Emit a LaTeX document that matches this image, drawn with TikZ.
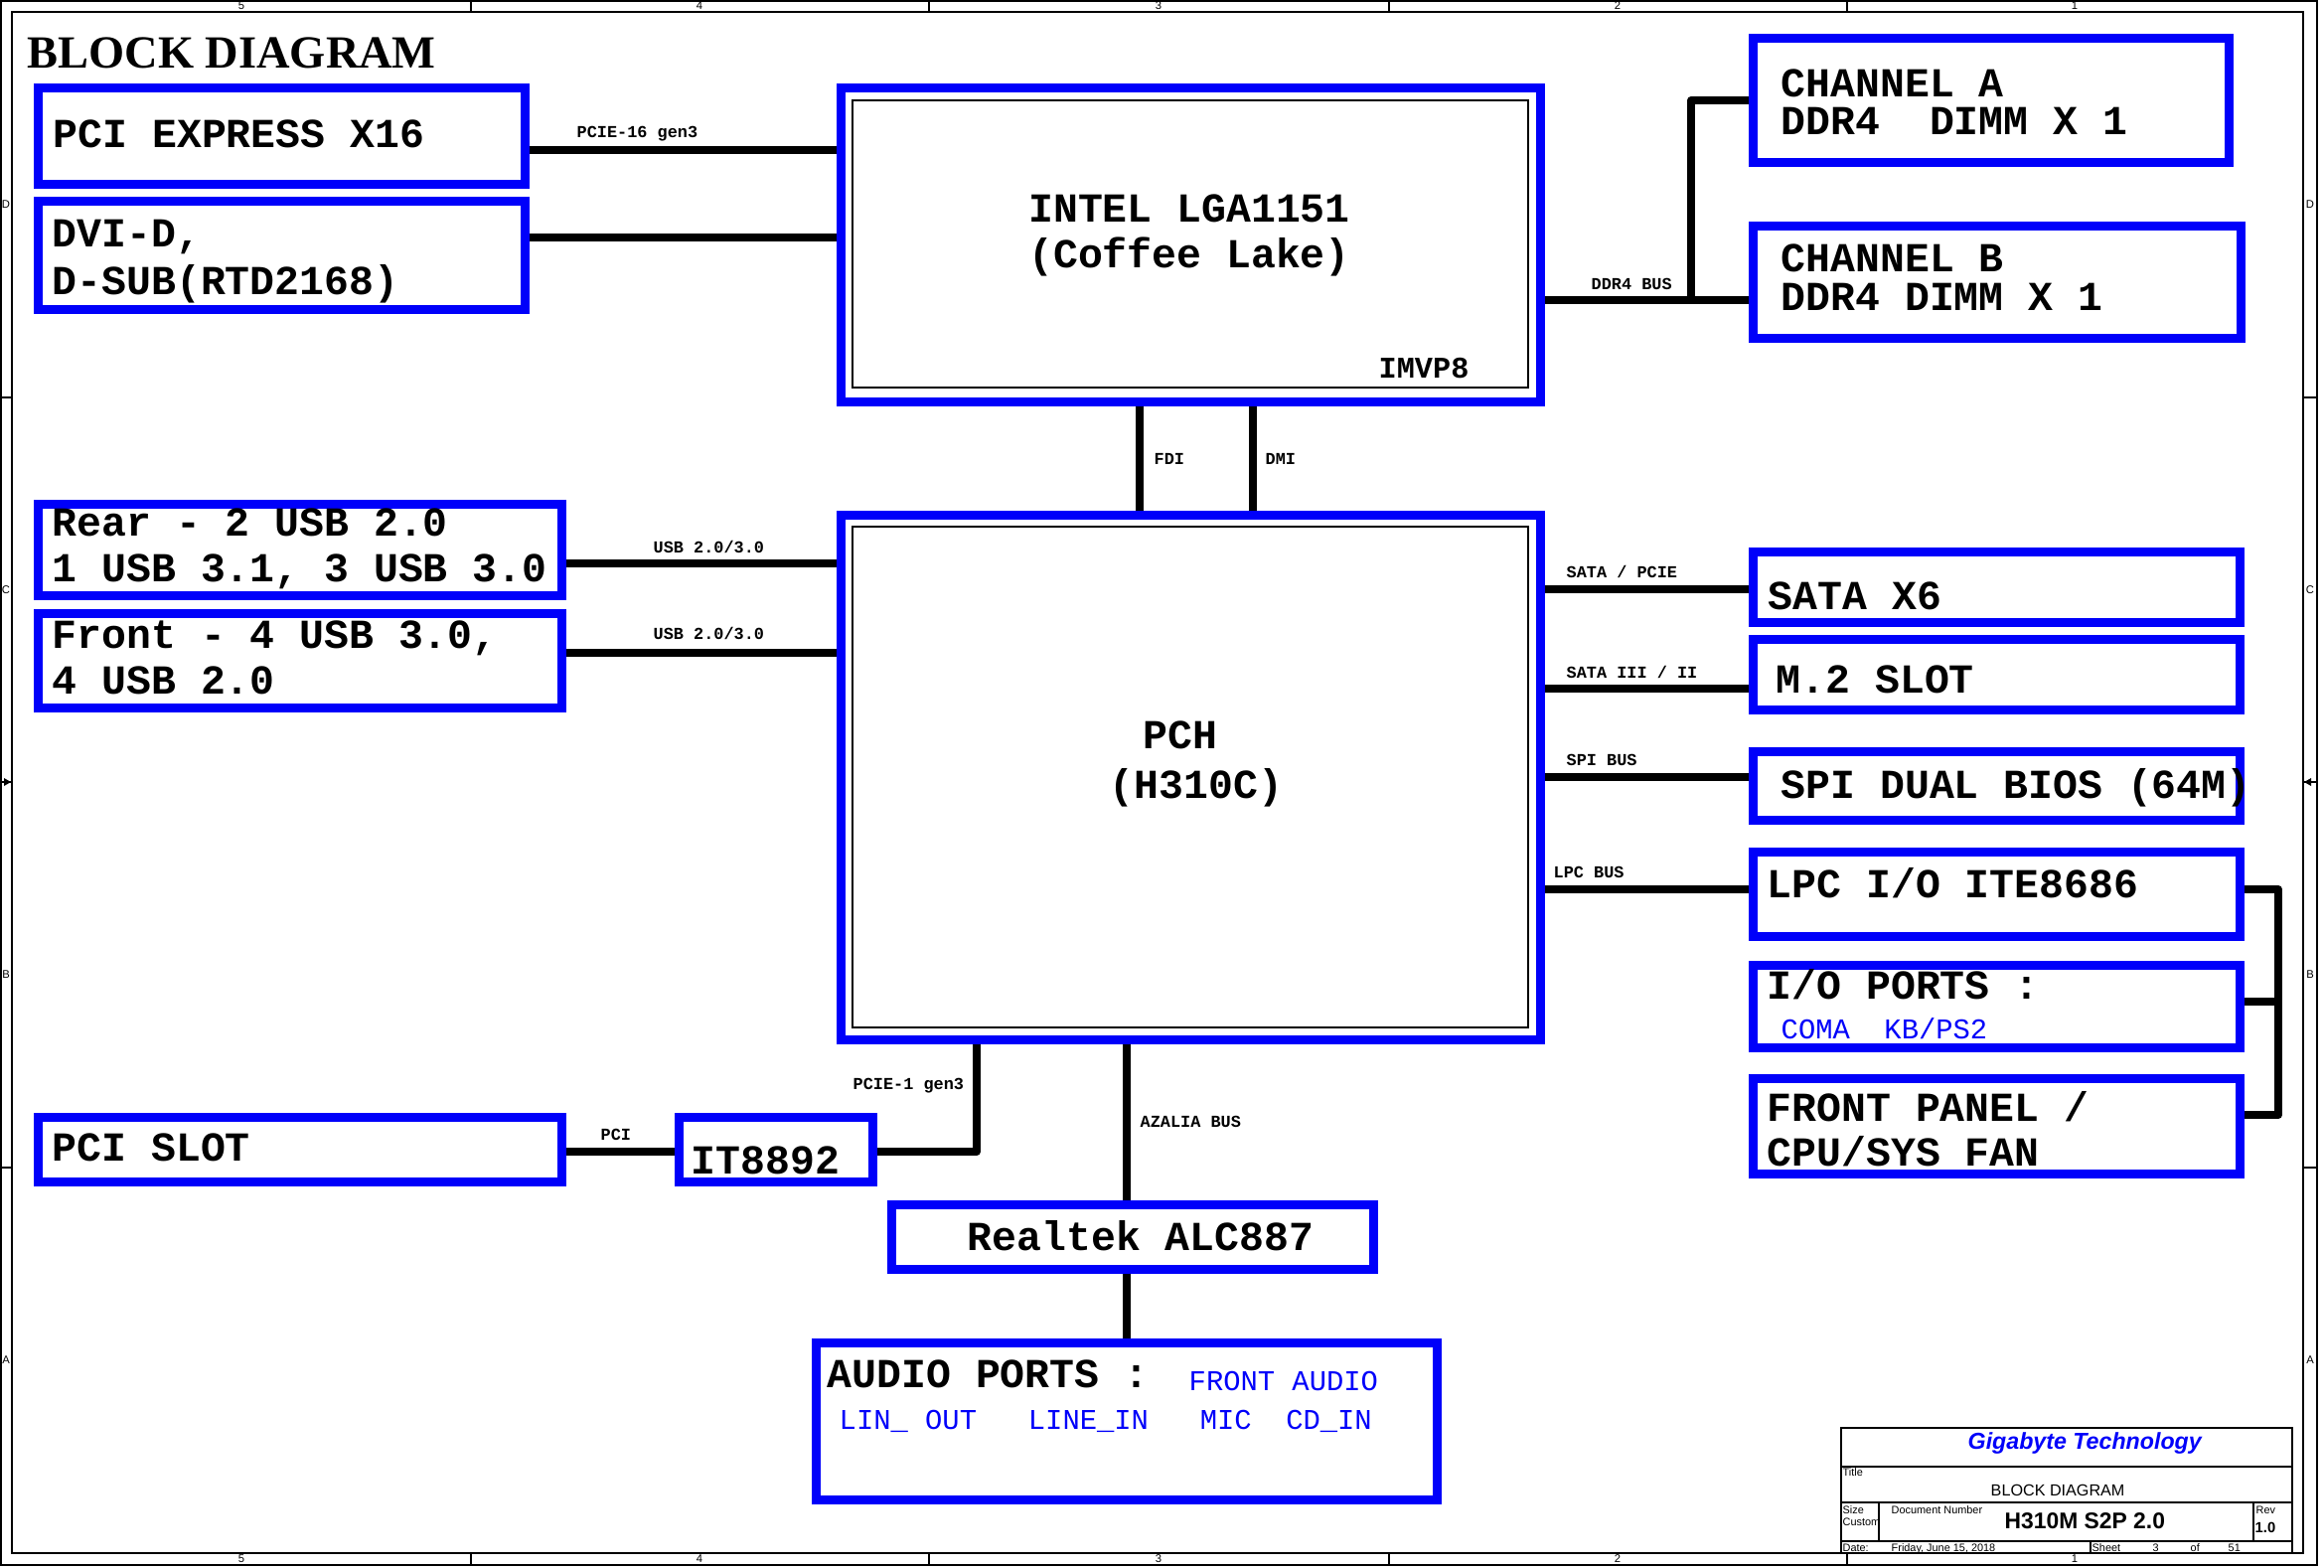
\documentclass[tikz,border=0pt]{standalone}
\usepackage{fontspec}
\setmainfont{Liberation Sans}
\newfontfamily\cour{Liberation Mono}
\newfontfamily\tms{Liberation Serif}
\usetikzlibrary{fit}
\definecolor{bblue}{RGB}{0,0,250}
\begin{document}
\begin{tikzpicture}[x=0.1mm,y=-0.1mm,
  blk/.style={draw=bblue, line width=0.9mm, inner sep=0pt, rectangle},
  thinbox/.style={draw=black, line width=0.15mm, inner sep=0pt, rectangle},
  wire/.style={line width=0.8mm, line join=round},
  frm/.style={line width=0.2mm},
  tb/.style={line width=0.12mm},
  big/.style={font=\cour\bfseries\fontsize{11.8}{11.8}\selectfont, anchor=base west, inner sep=0pt},
  bigc/.style={font=\cour\bfseries\fontsize{11.8}{11.8}\selectfont, anchor=base, inner sep=0pt},
  lbl/.style={font=\cour\bfseries\fontsize{4.8}{4.8}\selectfont, anchor=base west, inner sep=0pt},
  bluetxt/.style={font=\cour\fontsize{8.2}{8.2}\selectfont, text=bblue, anchor=base west, inner sep=0pt},
  strip/.style={font=\fontsize{3.2}{3.2}\selectfont, inner sep=0pt},
  tbt/.style={font=\fontsize{3.1}{3.1}\selectfont, anchor=base west, inner sep=0pt}
]
\useasboundingbox (0,0) rectangle (2339,1577);
\fill[white] (0,0) rectangle (2339,1577);

% ---------- sheet frame ----------
\draw[frm] (1,1) rectangle (2332,1575);
\draw[frm] (12,12) rectangle (2318,1563);
\foreach \xx in {474,935,1398,1859} {
  \draw[tb] (\xx,1) -- (\xx,12);
  \draw[tb] (\xx,1563) -- (\xx,1575);
}
\foreach \yy in {400,787,1175} {
  \draw[tb] (1,\yy) -- (12,\yy);
  \draw[tb] (2318,\yy) -- (2332,\yy);
}
\fill (11,787) -- (4,783) -- (4,791) -- cycle;
\fill (2319,787) -- (2326,783) -- (2326,791) -- cycle;
\node[strip] (c5t) at (243,6) {5};
\node[strip] (c4t) at (704,6) {4};
\node[strip] (c3t) at (1166,6) {3};
\node[strip] (c2t) at (1628,6) {2};
\node[strip] (c1t) at (2088,6) {1};
\node[strip] (c5b) at (243,1569) {5};
\node[strip] (c4b) at (704,1569) {4};
\node[strip] (c3b) at (1166,1569) {3};
\node[strip] (c2b) at (1628,1569) {2};
\node[strip] (c1b) at (2088,1569) {1};
\node[strip] (rDl) at (6,206) {D};
\node[strip] (rCl) at (6,594) {C};
\node[strip] (rBl) at (6,981) {B};
\node[strip] (rAl) at (6,1369) {A};
\node[strip] (rDr) at (2325,206) {D};
\node[strip] (rCr) at (2325,594) {C};
\node[strip] (rBr) at (2325,981) {B};
\node[strip] (rAr) at (2325,1369) {A};

% ---------- title ----------
\node[font=\tms\bfseries\fontsize{13.2}{13.2}\selectfont, anchor=base west, inner sep=0pt] (title) at (27,68) {BLOCK DIAGRAM};

% ---------- boxes ----------
\node[blk, fit={(38,88)(528,185)}] (pcie) {};
\node[blk, fit={(38,202)(528,311)}] (dvi) {};
\node[blk, fit={(846,88)(1550,404)}] (cpu) {};
\node[thinbox, fit={(858,101)(1538,390)}] (cpuin) {};
\node[blk, fit={(846,518)(1550,1046)}] (pch) {};
\node[thinbox, fit={(858,530)(1538,1034)}] (pchin) {};
\node[blk, fit={(38,507)(565,599)}] (rear) {};
\node[blk, fit={(38,617)(565,712)}] (front) {};
\node[blk, fit={(38,1124)(565,1189)}] (pcislot) {};
\node[blk, fit={(683,1124)(878,1189)}] (ite) {};
\node[blk, fit={(897,1212)(1382,1277)}] (realtek) {};
\node[blk, fit={(821,1351)(1446,1509)}] (audio) {};
\node[blk, fit={(1764,38)(2243,163)}] (chA) {};
\node[blk, fit={(1764,227)(2255,340)}] (chB) {};
\node[blk, fit={(1764,555)(2254,626)}] (sata) {};
\node[blk, fit={(1764,643)(2254,714)}] (m2) {};
\node[blk, fit={(1764,756)(2254,825)}] (spi) {};
\node[blk, fit={(1764,857)(2254,942)}] (lpc) {};
\node[blk, fit={(1764,971)(2254,1054)}] (io) {};
\node[blk, fit={(1764,1085)(2254,1181)}] (fp) {};

% ---------- box texts ----------
\node[big] (tpcie) at (53,148) {PCI EXPRESS X16};
\node[big] (tdvi1) at (52,248) {DVI-D,};
\node[big] (tdvi2) at (52,296) {D-SUB(RTD2168)};
\node[bigc] (tcpu1) at (1197,223) {INTEL LGA1151};
\node[bigc] (tcpu2) at (1197,269) {(Coffee Lake)};
\node[font=\cour\bfseries\fontsize{8.6}{8.6}\selectfont, anchor=base west, inner sep=0pt] (timvp) at (1387,380) {IMVP8};
\node[big] (tchA1) at (1792,97) {CHANNEL A};
\node[big] (tchA2) at (1792,135) {DDR4~~DIMM X 1};
\node[big] (tchB1) at (1792,273) {CHANNEL B};
\node[big] (tchB2) at (1792,312) {DDR4 DIMM X 1};
\node[big] (trear1) at (52,539) {Rear - 2 USB 2.0};
\node[big] (trear2) at (52,585) {1 USB 3.1, 3 USB 3.0};
\node[big] (tfront1) at (52,652) {Front - 4 USB 3.0,};
\node[big] (tfront2) at (52,698) {4 USB 2.0};
\node[big] (tpch1) at (1150,753) {PCH};
\node[big] (tpch2) at (1116,803) {(H310C)};
\node[big] (tsata) at (1779,613) {SATA X6};
\node[big] (tm2) at (1787,697) {M.2 SLOT};
\node[big] (tspi) at (1792,803) {SPI DUAL BIOS (64M)};
\node[big] (tlpc) at (1778,903) {LPC I/O ITE8686};
\node[big] (tio) at (1778,1005) {I/O PORTS :};
\node[bluetxt] (tio2) at (1792,1045) {COMA~~KB/PS2};
\node[big] (tfp1) at (1778,1128) {FRONT PANEL /};
\node[big] (tfp2) at (1778,1173) {CPU/SYS FAN};
\node[big] (tpcislot) at (52,1168) {PCI SLOT};
\node[big] (tite) at (695,1181) {IT8892};
\node[big] (trealtek) at (973,1258) {Realtek ALC887};
\node[big] (taudio1) at (832,1396) {AUDIO PORTS :};
\node[bluetxt] (taudio2) at (1196,1399) {FRONT AUDIO};
\node[bluetxt] (taudio3) at (844,1438) {LIN\_ OUT~~~LINE\_IN~~~MIC~~CD\_IN};

% ---------- connector coordinates ----------
\coordinate (yPCIE) at (0,151);
\coordinate (yDVI) at (0,239);
\coordinate (yDDR) at (0,302);
\coordinate (jDDR) at (1702,302);
\coordinate (yCHA) at (0,101);
\coordinate (xFDI) at (1147,0);
\coordinate (xDMI) at (1261,0);
\coordinate (yUSB1) at (0,567);
\coordinate (yUSB2) at (0,657);
\coordinate (ySATA) at (0,593);
\coordinate (yM2) at (0,693);
\coordinate (ySPI) at (0,782);
\coordinate (yLPC) at (0,895);
\coordinate (yIO) at (0,1008);
\coordinate (busB) at (2293,1122);
\coordinate (yPCI) at (0,1159);
\coordinate (xPCIE1) at (983,0);
\coordinate (xAZ) at (1134,0);

% ---------- connectors ----------
\draw[wire] (pcie.east |- yPCIE) -- (cpu.west |- yPCIE);
\draw[wire] (dvi.east |- yDVI) -- (cpu.west |- yDVI);
\draw[wire] (cpu.east |- yDDR) -- (chB.west |- yDDR);
\draw[wire] (jDDR) |- (chA.west |- yCHA);
\draw[wire] (cpu.south -| xFDI) -- (pch.north -| xFDI);
\draw[wire] (cpu.south -| xDMI) -- (pch.north -| xDMI);
\draw[wire] (rear.east |- yUSB1) -- (pch.west |- yUSB1);
\draw[wire] (front.east |- yUSB2) -- (pch.west |- yUSB2);
\draw[wire] (pch.east |- ySATA) -- (sata.west |- ySATA);
\draw[wire] (pch.east |- yM2) -- (m2.west |- yM2);
\draw[wire] (pch.east |- ySPI) -- (spi.west |- ySPI);
\draw[wire] (pch.east |- yLPC) -- (lpc.west |- yLPC);
\draw[wire] (lpc.east |- yLPC) -| (busB) -- (fp.east |- busB);
\draw[wire] (io.east |- yIO) -- (busB |- yIO);
\draw[wire] (pcislot.east |- yPCI) -- (ite.west |- yPCI);
\draw[wire] (ite.east |- yPCI) -| (pch.south -| xPCIE1);
\draw[wire] (pch.south -| xAZ) -- (realtek.north -| xAZ);
\draw[wire] (realtek.south -| xAZ) -- (audio.north -| xAZ);

% ---------- connector labels ----------
\node[lbl] (lpcie) at (580,138) {PCIE-16 gen3};
\node[lbl] (lddr) at (1601,291) {DDR4 BUS};
\node[lbl] (lfdi) at (1161,467) {FDI};
\node[lbl] (ldmi) at (1273,467) {DMI};
\node[lbl] (lusb1) at (657,556) {USB 2.0/3.0};
\node[lbl] (lusb2) at (657,643) {USB 2.0/3.0};
\node[lbl] (lsata) at (1576,581) {SATA / PCIE};
\node[lbl] (lm2) at (1576,682) {SATA III / II};
\node[lbl] (lspi) at (1576,770) {SPI BUS};
\node[lbl] (llpc) at (1563,883) {LPC BUS};
\node[lbl] (lpci) at (604,1147) {PCI};
\node[lbl] (lpcie1) at (858,1096) {PCIE-1 gen3};
\node[lbl] (laz) at (1147,1134) {AZALIA BUS};

% ---------- title block ----------
\draw[tb] (1853,1563) -- (1853,1437) -- (2307,1437) -- (2307,1563);
\draw[tb] (1853,1476) -- (2307,1476);
\draw[tb] (1853,1512) -- (2307,1512);
\draw[tb] (1853,1551) -- (2307,1551);
\draw[tb] (1891,1512) -- (1891,1551);
\draw[tb] (2268,1512) -- (2268,1551);
\draw[tb] (2104,1551) -- (2104,1563);
\node[font=\fontsize{6.6}{6.6}\selectfont\bfseries\itshape, text=bblue, anchor=base west, inner sep=0pt] (tbco) at (1980,1458) {Gigabyte Technology};
\node[tbt] (tbtitle) at (1854,1485) {Title};
\node[font=\fontsize{4.6}{4.6}\selectfont, anchor=base west, inner sep=0pt] (tbname) at (2003,1505) {BLOCK DIAGRAM};
\node[tbt] (tbsize) at (1854,1523) {Size};
\node[tbt] (tbcustom) at (1854,1535) {Custom};
\node[tbt] (tbdocn) at (1903,1523) {Document Number};
\node[font=\fontsize{6.5}{6.5}\selectfont\bfseries, anchor=base west, inner sep=0pt] (tbdoc) at (2017,1538) {H310M S2P 2.0};
\node[tbt] (tbrev) at (2270,1523) {Rev};
\node[font=\fontsize{4.2}{4.2}\selectfont\bfseries, anchor=base west, inner sep=0pt] (tbrevn) at (2269,1542) {1.0};
\node[tbt] (tbdate) at (1854,1561) {Date:};
\node[tbt] (tbdatev) at (1903,1561) {Friday, June 15, 2018};
\node[tbt] (tbsheet) at (2105,1561) {Sheet};
\node[tbt] (tbsheetn) at (2166,1561) {3};
\node[tbt] (tbof) at (2204,1561) {of};
\node[tbt] (tbtotal) at (2242,1561) {51};
\end{tikzpicture}
\end{document}
